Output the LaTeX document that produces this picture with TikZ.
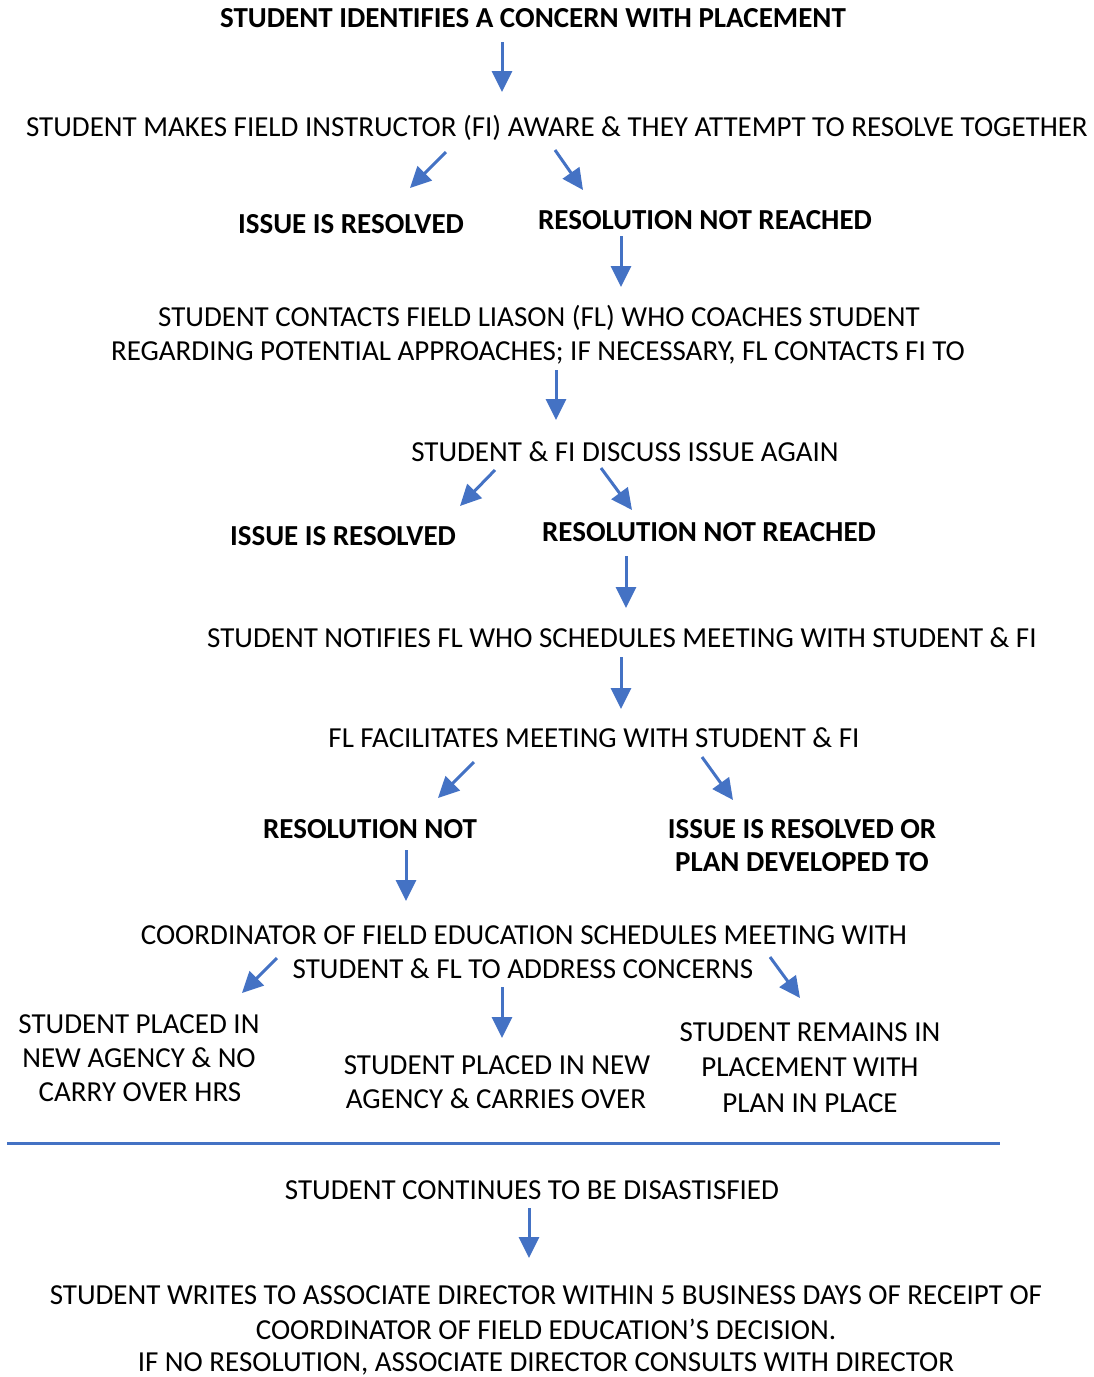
\documentclass[tikz,border=0pt]{standalone}
\usepackage{fontspec}
\setmainfont{Carlito}
\usetikzlibrary{arrows.meta}
\definecolor{arrowblue}{HTML}{4472C4}
\begin{document}
\begin{tikzpicture}[x=1pt,y=-1pt,
  txt/.style={anchor=base,inner sep=0pt,font=\fontsize{29}{34}\selectfont},
  btxt/.style={txt,font=\fontsize{29}{34}\selectfont\bfseries},
  arr/.style={draw=arrowblue,line width=3pt,-{Triangle[length=21pt,width=20pt]},arrowblue}]
\useasboundingbox (0,0) rectangle (1094,1377);
\node[btxt] (t1) at (533,27) {STUDENT IDENTIFIES A CONCERN WITH PLACEMENT};
\node[txt] (t2) at (557,136) {STUDENT MAKES FIELD INSTRUCTOR (FI) AWARE \& THEY ATTEMPT TO RESOLVE TOGETHER};
\node[btxt] (r1) at (351,233) {ISSUE IS RESOLVED};
\node[btxt] (n1) at (705,229) {RESOLUTION NOT REACHED};
\node[txt] (t3a) at (539,326) {STUDENT CONTACTS FIELD LIASON (FL) WHO COACHES STUDENT};
\node[txt] (t3b) at (538,360) {REGARDING POTENTIAL APPROACHES; IF NECESSARY, FL CONTACTS FI TO};
\node[txt] (t4) at (625,461) {STUDENT \& FI DISCUSS ISSUE AGAIN};
\node[btxt] (r2) at (343,545) {ISSUE IS RESOLVED};
\node[btxt] (n2) at (709,541) {RESOLUTION NOT REACHED};
\node[txt] (t5) at (622,647) {STUDENT NOTIFIES FL WHO SCHEDULES MEETING WITH STUDENT \& FI};
\node[txt] (t6) at (594,747) {FL FACILITATES MEETING WITH STUDENT \& FI};
\node[btxt] (n3) at (370,838) {RESOLUTION NOT};
\node[btxt] (r3a) at (802,838) {ISSUE IS RESOLVED OR};
\begin{scope}
\clip (600,845) rectangle (1000,870);
\node[btxt] (r3b) at (802,871) {PLAN DEVELOPED TO};
\end{scope}
\node[txt] (t7a) at (524,944) {COORDINATOR OF FIELD EDUCATION SCHEDULES MEETING WITH};
\node[txt] (t7b) at (523,978) {STUDENT \& FL TO ADDRESS CONCERNS};
\node[txt] (l1) at (139,1033) {STUDENT PLACED IN};
\node[txt] (l2) at (139,1067) {NEW AGENCY \& NO};
\node[txt] (l3) at (140,1101) {CARRY OVER HRS};
\node[txt] (m1) at (497,1074) {STUDENT PLACED IN NEW};
\node[txt] (m2) at (496,1108) {AGENCY \& CARRIES OVER};
\node[txt] (q1) at (810,1041) {STUDENT REMAINS IN};
\node[txt] (q2) at (810,1076) {PLACEMENT WITH};
\node[txt] (q3) at (810,1112) {PLAN IN PLACE};
\coordinate (hl1) at (7,1143);
\coordinate (hl2) at (1000,1143);
\draw[arrowblue,line width=3pt] (hl1) -- (hl2);
\node[txt] (t8) at (532,1199) {STUDENT CONTINUES TO BE DISASTISFIED};
\node[txt] (t9a) at (546,1304) {STUDENT WRITES TO ASSOCIATE DIRECTOR WITHIN 5 BUSINESS DAYS OF RECEIPT OF};
\node[txt] (t9b) at (546,1339) {COORDINATOR OF FIELD EDUCATION’S DECISION.};
\node[txt] (t9c) at (546,1371) {IF NO RESOLUTION, ASSOCIATE DIRECTOR CONSULTS WITH DIRECTOR};
% arrows
\coordinate (a1s) at (502,42); \coordinate (a1e) at (502,92);
\draw[arr] (a1s) -- (a1e);
\coordinate (a2s) at (446,152); \coordinate (a2e) at (410,188);
\draw[arr] (a2s) -- (a2e);
\coordinate (a3s) at (555,150); \coordinate (a3e) at (583,190);
\draw[arr] (a3s) -- (a3e);
\coordinate (a4s) at (621,236); \coordinate (a4e) at (621,287);
\draw[arr] (a4s) -- (a4e);
\coordinate (a5s) at (556,370); \coordinate (a5e) at (556,420);
\draw[arr] (a5s) -- (a5e);
\coordinate (a6s) at (495,470); \coordinate (a6e) at (460,506);
\draw[arr] (a6s) -- (a6e);
\coordinate (a7s) at (601,468); \coordinate (a7e) at (632,510);
\draw[arr] (a7s) -- (a7e);
\coordinate (a8s) at (626,556); \coordinate (a8e) at (626,608);
\draw[arr] (a8s) -- (a8e);
\coordinate (a9s) at (621,657); \coordinate (a9e) at (621,709);
\draw[arr] (a9s) -- (a9e);
\coordinate (a10s) at (474,762); \coordinate (a10e) at (438,798);
\draw[arr] (a10s) -- (a10e);
\coordinate (a11s) at (702,757); \coordinate (a11e) at (733,800);
\draw[arr] (a11s) -- (a11e);
\coordinate (a12s) at (406,850); \coordinate (a12e) at (406,901);
\draw[arr] (a12s) -- (a12e);
\coordinate (a13s) at (277,958); \coordinate (a13e) at (242,993);
\draw[arr] (a13s) -- (a13e);
\coordinate (a14s) at (502,987); \coordinate (a14e) at (502,1038);
\draw[arr] (a14s) -- (a14e);
\coordinate (a15s) at (770,957); \coordinate (a15e) at (800,998);
\draw[arr] (a15s) -- (a15e);
\coordinate (a16s) at (529,1208); \coordinate (a16e) at (529,1258);
\draw[arr] (a16s) -- (a16e);
\end{tikzpicture}
\end{document}
